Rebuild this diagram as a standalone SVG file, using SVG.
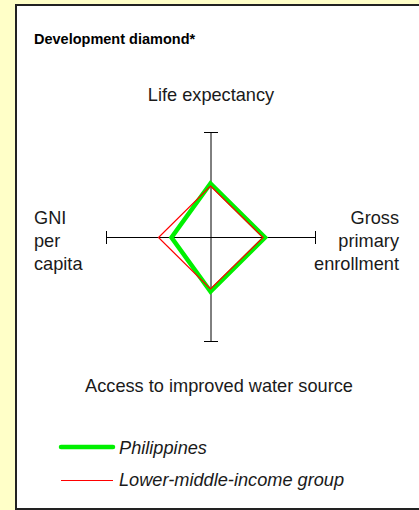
<svg xmlns="http://www.w3.org/2000/svg" width="419" height="510" viewBox="0 0 419 510">
<style>
.lbl{font-family:"Liberation Sans",Arial,sans-serif;font-size:18.2px;fill:#1a1a1a}
.ttl{font-family:"Liberation Sans",Arial,sans-serif;font-size:14.5px;font-weight:bold;fill:#000}
.leg{font-family:"Liberation Sans",Arial,sans-serif;font-size:18.2px;font-style:italic;fill:#1a1a1a}
.axis{stroke:#000;stroke-width:1;fill:none}
.red{stroke:#FF0000;stroke-width:1.2;fill:none}
.green{stroke:#00F000;fill:none}
</style>
<rect x="0" y="0" width="419" height="510" fill="#FFFFC8"/>
<rect x="16" y="5" width="410" height="504" fill="#fff" stroke="#222" stroke-width="2"/>
<text class="ttl" x="34" y="44">Development diamond*</text>
<g id="axes">
<line class="axis" x1="211" y1="132.5" x2="211" y2="341.5"/>
<line class="axis" x1="204" y1="132.5" x2="218" y2="132.5"/>
<line class="axis" x1="204" y1="341.5" x2="218" y2="341.5"/>
<line class="axis" x1="106.5" y1="237.5" x2="315.5" y2="237.5"/>
<line class="axis" x1="106.5" y1="231" x2="106.5" y2="244"/>
<line class="axis" x1="315.5" y1="231" x2="315.5" y2="244"/>
</g>
<g id="series">
<polygon id="philippines" class="green" points="210.5,183.5 265,237.5 210.5,291.5 171.5,237.5" stroke-width="4.5" stroke-linejoin="miter"/>
<polygon id="lmi" class="red" points="210.5,186 263,237.5 210.5,289 158.5,237.5"/>
</g>
<g id="labels">
<text class="lbl" x="211" y="101" text-anchor="middle">Life expectancy</text>
<text class="lbl" x="219" y="392" text-anchor="middle">Access to improved water source</text>
<text class="lbl" x="34" y="224">GNI</text>
<text class="lbl" x="34" y="247">per</text>
<text class="lbl" x="34" y="270">capita</text>
<text class="lbl" x="399" y="224" text-anchor="end">Gross</text>
<text class="lbl" x="399" y="247" text-anchor="end">primary</text>
<text class="lbl" x="399" y="270" text-anchor="end">enrollment</text>
</g>
<g id="legend">
<line class="green" x1="61" y1="447" x2="113" y2="447" stroke-width="4.5" stroke-linecap="round"/>
<text class="leg" x="119" y="454">Philippines</text>
<line class="red" x1="61" y1="480.5" x2="113" y2="480.5"/>
<text class="leg" x="119" y="486">Lower-middle-income group</text>
</g>
</svg>
